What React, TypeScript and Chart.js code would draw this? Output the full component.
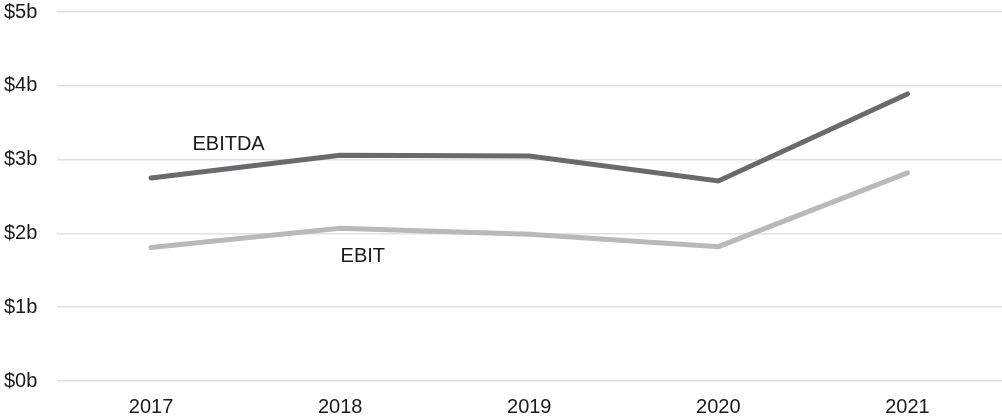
import React, { useEffect, useRef } from "react";
import { Chart, registerables } from "chart.js";

Chart.register(...registerables);

const years = ["2017", "2018", "2019", "2020", "2021"];
const ebitda = [2.75, 3.06, 3.05, 2.71, 3.89];
const ebit = [1.81, 2.07, 1.99, 1.82, 2.82];
const yTicks = [0, 1, 2, 3, 4, 5];

const seriesNames = ["EBITDA", "EBIT"];
const labelAtIndex = [0.41, 1.12];
const labelAtValue = [3.2, 1.69];

const FONT = '"Liberation Sans", Arial, sans-serif';
const TEXT = "#1a1a1a";

const seriesLabels = {
  id: "seriesLabels",
  afterDatasetsDraw(chart: any) {
    const { ctx, scales } = chart;
    ctx.save();
    ctx.font = `20px ${FONT}`;
    ctx.fillStyle = TEXT;
    ctx.textAlign = "center";
    ctx.textBaseline = "middle";
    seriesNames.forEach((name, i) => {
      const x = scales.x.getPixelForValue(labelAtIndex[i]);
      const y = scales.y.getPixelForValue(labelAtValue[i]);
      ctx.fillText(name, x, y);
    });
    ctx.restore();
  },
};

export default function App() {
  const ref = useRef<HTMLCanvasElement>(null);
  useEffect(() => {
    if (!ref.current) return;
    const chart = new Chart(ref.current, {
      type: "line",
      data: {
        labels: years,
        datasets: [
          {
            label: seriesNames[0],
            data: ebitda,
            borderColor: "#6a696e",
            borderWidth: 5,
            borderCapStyle: "round",
            pointRadius: 0,
            fill: false,
            tension: 0,
          },
          {
            label: seriesNames[1],
            data: ebit,
            borderColor: "#b9b9b9",
            borderWidth: 5,
            borderCapStyle: "round",
            pointRadius: 0,
            fill: false,
            tension: 0,
          },
        ],
      },
      options: {
        animation: false,
        responsive: true,
        maintainAspectRatio: false,
        layout: { padding: { left: 4, top: 12, right: 0, bottom: 0 } },
        plugins: { legend: { display: false }, tooltip: { enabled: false } },
        scales: {
          x: {
            offset: true,
            grid: { display: false, drawTicks: false },
            border: { display: false },
            ticks: {
              color: TEXT,
              font: { family: FONT, size: 20 },
              padding: 14,
              maxRotation: 0,
            },
            afterFit: (s: any) => {
              s.height = 35;
              s.paddingLeft = 0;
              s.paddingRight = 0;
            },
          },
          y: {
            min: 0,
            max: 5,
            afterBuildTicks: (s: any) => {
              s.ticks = yTicks.map((v) => ({ value: v }));
            },
            grid: { color: "#e0e0e5", lineWidth: 1.5, drawTicks: false },
            border: { display: false },
            ticks: {
              color: TEXT,
              font: { family: FONT, size: 20 },
              crossAlign: "far",
              padding: 10,
              callback: (v: any) => `$${v}b`,
            },
            afterFit: (s: any) => {
              s.width = 52.5;
              s.paddingTop = 0;
              s.paddingBottom = 0;
            },
          },
        },
      },
      plugins: [seriesLabels],
    });
    return () => chart.destroy();
  }, []);
  return (
    <div style={{ position: "absolute", left: 0, top: 0, width: 1002, height: 416 }}>
      <canvas ref={ref} />
    </div>
  );
}
